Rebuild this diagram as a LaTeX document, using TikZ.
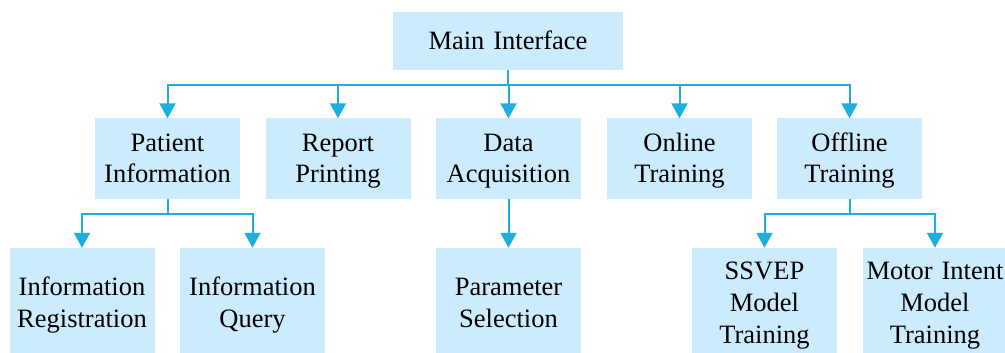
\documentclass[tikz,border=0pt]{standalone}
\usepackage{fontspec}
\setmainfont{Liberation Serif}
\usetikzlibrary{arrows.meta}
\definecolor{boxback}{RGB}{204,235,252}
\definecolor{linkblue}{RGB}{33,174,222}
\tikzset{
  box/.style={fill=boxback,inner sep=0pt,align=center,text width=145pt,text height=32.5pt,text depth=47.5pt,font=\fontsize{26.5}{32}\selectfont},
  leaf/.style={box,text height=47.5pt,text depth=57.5pt},
  tallleaf/.style={box,text height=31.5pt,text depth=73.5pt},
  link/.style={draw=linkblue,line width=2pt},
  arr/.style={link,-{Triangle[length=15pt,width=16pt]}}
}
\begin{document}
\begin{tikzpicture}[x=1pt,y=-1pt]
\useasboundingbox (0,0) rectangle (1005,353);
\node [box,text width=230pt,text height=38pt,text depth=20pt] (main) at (508,41) {Main Interface};
\node [box] (patient) at (167.5,158.5) {Patient\\Information};
\node [box] (report) at (338,158.5) {Report\\Printing};
\node [box] (acq) at (508.5,158.5) {Data\\Acquisition};
\node [box] (online) at (679.5,158.5) {Online\\Training};
\node [box] (offline) at (849.5,158.5) {Offline\\Training};
\node [leaf] (infreg) at (82,300.5) {Information\\Registration};
\node [leaf] (infquery) at (252.5,300.5) {Information\\Query};
\node [leaf] (param) at (508.5,300.5) {Parameter\\Selection};
\node [tallleaf] (ssvep) at (764.5,300.5) {SSVEP\\Model\\Training};
\node [tallleaf] (motor) at (935,300.5) {Motor Intent\\Model\\Training};
\coordinate (bustop) at (508,85);
\coordinate (busleft) at (167.5,214);
\coordinate (busright) at (849.5,214);
\draw [link] (main.south) -- (bustop);
\foreach \n in {patient,report,acq,online,offline}
  \draw [arr] (bustop) -| (\n.north);
\draw [link] (patient.south) -- (busleft);
\draw [arr] (busleft) -| (infreg.north);
\draw [arr] (busleft) -| (infquery.north);
\draw [arr] (acq.south) -- (param.north);
\draw [link] (offline.south) -- (busright);
\draw [arr] (busright) -| (ssvep.north);
\draw [arr] (busright) -| (motor.north);
\end{tikzpicture}
\end{document}
